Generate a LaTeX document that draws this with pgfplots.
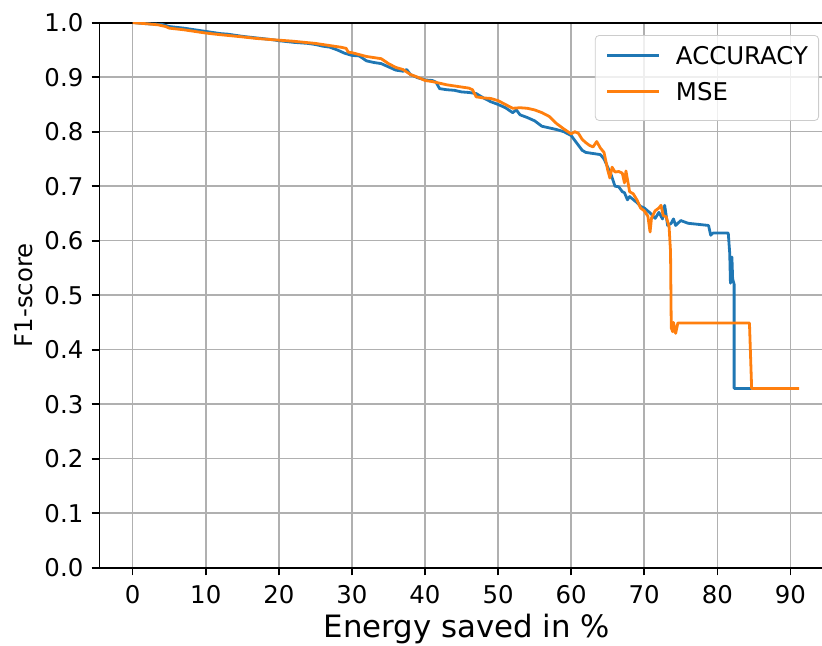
\documentclass[border=0pt]{standalone}
\usepackage{fontspec}
\setmainfont{DejaVu Sans}
\usepackage{pgfplots}
\pgfplotsset{compat=1.18}
\definecolor{mplblue}{HTML}{1F77B4}
\definecolor{mplorange}{HTML}{FF7F0E}
\begin{document}
\begin{tikzpicture}
\begin{axis}[
    scale only axis,
    width=367.35pt, height=272.5pt,
    xmin=-4.57, xmax=95.97, ymin=0, ymax=1,
    xtick={0,10,20,30,40,50,60,70,80,90},
    ytick={0,0.1,0.2,0.3,0.4,0.5,0.6,0.7,0.8,0.9,1.0},
    /pgf/number format/assume math mode=true,
    yticklabel style={/pgf/number format/fixed, /pgf/number format/fixed zerofill,
        /pgf/number format/precision=1, anchor=east, xshift=-4pt, inner sep=0pt},
    ticklabel style={font=\fontsize{12.2}{14}\selectfont},
    xticklabel style={anchor=base, yshift=-13.9pt, inner sep=0pt},
    tick align=outside, tick pos=left,
    major tick length=3.8pt,
    tick style={black, line width=0.8pt},
    axis line style={line width=0.8pt},
    grid=major,
    grid style={color=black!31, line width=0.75pt},
    xlabel={Energy saved in \%},
    ylabel={F1-score},
    xlabel style={at={(axis description cs:0.5,0)}, anchor=base, yshift=-35pt, font=\fontsize{15.4}{18}\selectfont},
    ylabel style={at={(axis description cs:-0.1034,0.5)}, anchor=center, font=\fontsize{12.2}{14}\selectfont},
    legend image code/.code={\draw[#1, line width=1.5pt] (0pt,2pt) -- (26pt,2pt);},
    legend cell align=left,
    legend style={at={(0.9796,0.9774)}, anchor=north east, draw=black!20,
        rounded corners=2pt, fill=white, fill opacity=0.8, text opacity=1, draw opacity=1,
        inner xsep=5.35pt, inner ysep=5.5pt, row sep=4.45pt,
        font=\fontsize{12.2}{14}\selectfont,
        nodes={inner sep=0pt, text height=9.05pt, text depth=4.5pt},
        /tikz/every odd column/.append style={column sep=7.5pt}},
    every axis plot/.append style={line width=1.4pt, line join=round},
]
\addplot[mplblue] coordinates {
(0.3,1.0)(2,0.998)(4,0.997)(5,0.993)(7,0.99)(8,0.988)(10,0.984)(12,0.98)(13,0.979)
(15,0.975)(17,0.972)(19,0.969)(20,0.967)(22,0.964)(24,0.962)(25,0.96)(26,0.957)
(27,0.955)(28,0.95)(29,0.944)(30,0.94)(31,0.939)(32,0.93)(33,0.927)(34,0.925)
(35,0.919)(36,0.913)(37,0.911)(37.5,0.914)(38,0.905)(39,0.899)(40,0.895)(41,0.894)
(41.5,0.891)(42,0.879)(43,0.877)(44,0.876)(45,0.873)(46,0.872)(47,0.87)(48,0.862)
(49,0.855)(50,0.85)(51,0.844)(52,0.835)(52.5,0.84)(53,0.831)(54,0.826)(55,0.82)
(56,0.81)(57,0.807)(58,0.804)(59,0.8)(60,0.793)(61,0.775)(61.5,0.766)(62,0.762)
(63,0.76)(64,0.758)(64.5,0.75)(65,0.735)(65.5,0.72)(66,0.70)(66.5,0.699)(67,0.69)
(67.3,0.688)(67.7,0.675)(68,0.681)(69,0.67)(69.5,0.663)(70,0.66)(70.8,0.651)
(71.5,0.641)(72,0.652)(72.5,0.64)(72.8,0.665)(73.2,0.628)(73.7,0.632)(74,0.64)
(74.3,0.628)(75,0.637)(76,0.632)(78.8,0.628)(79.1,0.61)(79.4,0.614)(81.5,0.614)
(81.7,0.577)(81.8,0.522)(82.0,0.57)(82.1,0.53)(82.3,0.52)(82.3,0.329)(84.7,0.329)
};
\addlegendentry{ACCURACY}
\addplot[mplorange] coordinates {
(0,1.0)(2,0.998)(3.5,0.996)(4.5,0.993)(5,0.99)(7,0.987)(9,0.983)(10,0.981)(12,0.978)
(15,0.974)(17,0.971)(20,0.968)(22,0.966)(25,0.962)(27,0.958)(28.5,0.955)(29.2,0.953)
(29.5,0.946)(30,0.945)(32,0.938)(34,0.934)(35,0.925)(36,0.918)(37,0.914)(38,0.905)
(39,0.9)(40,0.894)(41,0.892)(42,0.889)(43,0.886)(44,0.884)(45,0.882)(46,0.88)
(46.5,0.877)(47,0.864)(48,0.862)(49,0.861)(50,0.857)(51,0.85)(52,0.843)(53,0.844)
(54,0.843)(55,0.84)(56,0.835)(57,0.828)(58,0.815)(59,0.805)(60,0.796)(60.5,0.8)
(61,0.797)(61.5,0.786)(62,0.78)(62.5,0.775)(63,0.772)(63.5,0.782)(64,0.77)
(64.5,0.762)(65,0.73)(65.3,0.715)(65.6,0.735)(66,0.726)(66.5,0.727)(67,0.724)
(67.3,0.706)(67.5,0.728)(68,0.69)(68.5,0.686)(69,0.675)(69.5,0.66)(70,0.655)
(70.5,0.645)(70.8,0.616)(71,0.642)(71.5,0.655)(72,0.66)(72.3,0.665)(72.6,0.646)
(73,0.644)(73.4,0.626)(73.6,0.58)(73.7,0.44)(73.9,0.433)(74.0,0.45)(74.3,0.43)
(74.6,0.449)(84.4,0.449)(84.7,0.329)(91.2,0.329)
};
\addlegendentry{MSE}
\end{axis}
\pgfresetboundingbox
\path[use as bounding box] (-49.65pt,-38.65pt) rectangle (361.35pt,283.85pt);
\end{tikzpicture}
\end{document}
